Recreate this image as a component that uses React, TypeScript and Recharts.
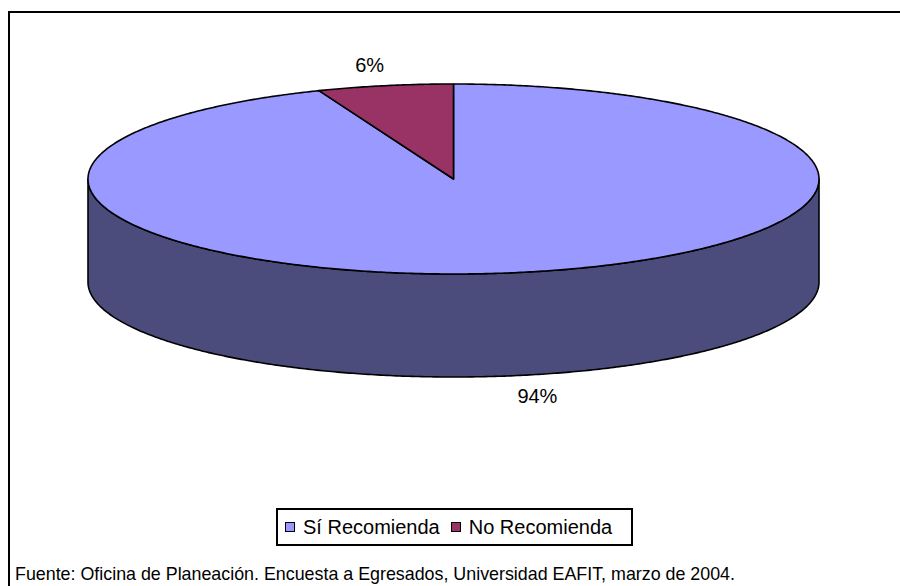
import React from 'react';
import { PieChart, Pie, Cell, Legend } from 'recharts';

// Survey answers: share of graduates who would recommend the university
const categories = ['Sí Recomienda', 'No Recomienda'];
const shares = [94, 6];
const topColors = ['#9999FF', '#993366'];
const sideColors = ['#4B4B7C', '#4C1933'];
const sourceNote =
  'Fuente: Oficina de Planeación. Encuesta a Egresados, Universidad EAFIT, marzo de 2004.';

const data = categories.map((name, i) => ({
  name,
  value: shares[i],
  fill: topColors[i],
  side: sideColors[i],
}));

const FONT = '"Liberation Sans", Arial, Helvetica, sans-serif';
const RAD = Math.PI / 180;
const TILT = 95 / 365.5; // vertical squash of the top face
const DEPTH = 103; // thickness of the cylinder wall
const LABEL_SCALE = 1.225;

type Pt = [number, number];

const ellipsePoint = (cx: number, cy: number, rx: number, ry: number, deg: number, dy = 0): Pt => [
  cx + rx * Math.cos(deg * RAD),
  cy - ry * Math.sin(deg * RAD) + dy,
];

const arcPoints = (
  cx: number, cy: number, rx: number, ry: number, from: number, to: number, dy = 0,
): Pt[] => {
  const n = Math.max(2, Math.ceil(Math.abs(to - from) / 0.5));
  const pts: Pt[] = [];
  for (let i = 0; i <= n; i++) {
    pts.push(ellipsePoint(cx, cy, rx, ry, from + ((to - from) * i) / n, dy));
  }
  return pts;
};

// Parts of [lo, hi] that face the viewer (lower half of the ellipse)
const frontRanges = (lo: number, hi: number): Array<[number, number]> => {
  const out: Array<[number, number]> = [];
  for (let k = Math.floor(lo / 360) - 1; k <= Math.ceil(hi / 360) + 1; k++) {
    const a = Math.max(lo, 180 + 360 * k);
    const b = Math.min(hi, 360 + 360 * k);
    if (b > a) out.push([a, b]);
  }
  return out;
};

const toPath = (pts: Pt[]) =>
  'M' + pts.map(([x, y]) => `${x.toFixed(2)},${y.toFixed(2)}`).join('L') + 'Z';

const Slice3D = (props: any) => {
  const { cx, cy, outerRadius, startAngle, endAngle, fill } = props;
  const side = props.payload?.side ?? props.side ?? '#444';
  const rx = outerRadius;
  const ry = outerRadius * TILT;
  const lo = Math.min(startAngle, endAngle);
  const hi = Math.max(startAngle, endAngle);
  const walls = frontRanges(lo, hi).map(([a, b]) =>
    toPath([...arcPoints(cx, cy, rx, ry, a, b, 0), ...arcPoints(cx, cy, rx, ry, b, a, DEPTH)]),
  );
  const face = toPath([[cx, cy], ...arcPoints(cx, cy, rx, ry, startAngle, endAngle, 0)]);
  return (
    <g>
      {walls.map((d, i) => (
        <path key={i} d={d} fill={side} stroke="#000" strokeWidth={1.6} strokeLinejoin="round" />
      ))}
      <path d={face} fill={fill} stroke="#000" strokeWidth={1.6} strokeLinejoin="round" />
    </g>
  );
};

const renderLabel = (props: any) => {
  const { cx, cy, outerRadius, value } = props;
  const mid = props.midAngle ?? (props.startAngle + props.endAngle) / 2;
  const s = Math.sin(mid * RAD);
  const x = cx + outerRadius * LABEL_SCALE * Math.cos(mid * RAD);
  const y = cy - outerRadius * TILT * LABEL_SCALE * s + (s < 0 ? DEPTH : 0);
  return (
    <text
      x={x}
      y={y}
      textAnchor="middle"
      dominantBaseline="central"
      fontSize={20}
      fontFamily={FONT}
      fill="#000"
    >
      {`${value}%`}
    </text>
  );
};

const LegendBox = (props: any) => {
  // keep the series order of the data
  const payload = [...(props.payload ?? [])].sort(
    (a: any, b: any) => categories.indexOf(a.value) - categories.indexOf(b.value),
  );
  return (
    <div
      style={{
        boxSizing: 'border-box',
        width: 357,
        height: 38,
        border: '2px solid #000',
        background: '#fff',
        display: 'flex',
        alignItems: 'center',
        paddingLeft: 7,
        fontFamily: FONT,
        fontSize: 20,
        color: '#000',
        whiteSpace: 'nowrap',
      }}
    >
      {payload.map((entry: any, i: number) => (
        <span key={i} style={{ display: 'flex', alignItems: 'center', marginRight: 11 }}>
          <span
            style={{
              display: 'inline-block',
              boxSizing: 'border-box',
              width: 10,
              height: 10,
              border: '1.5px solid #000',
              background: entry.color ?? topColors[categories.indexOf(entry.value)],
              marginRight: 8,
            }}
          />
          {entry.value}
        </span>
      ))}
    </div>
  );
};

export default function App() {
  return (
    <div
      style={{
        position: 'absolute',
        left: 0,
        top: 0,
        width: 900,
        height: 586,
        background: '#fff',
        overflow: 'hidden',
      }}
    >
      <div
        style={{
          position: 'absolute',
          left: 8,
          top: 11,
          width: 940,
          height: 620,
          boxSizing: 'border-box',
          border: '2px solid #000',
        }}
      />
      <PieChart
        width={900}
        height={586}
        margin={{ top: 0, right: 0, bottom: 0, left: 0 }}
        style={{ position: 'absolute', left: 0, top: 0 }}
      >
        <Pie
          data={data}
          dataKey="value"
          nameKey="name"
          cx={453.5}
          cy={179}
          outerRadius={365.5}
          startAngle={90}
          endAngle={-270}
          stroke="#000"
          isAnimationActive={false}
          labelLine={false}
          label={renderLabel}
          shape={Slice3D}
          activeShape={Slice3D}
          inactiveShape={Slice3D}
        >
          {data.map((d, i) => (
            <Cell key={i} fill={d.fill} />
          ))}
        </Pie>
        <Legend
          content={LegendBox}
          wrapperStyle={{ left: 276, top: 508, width: 357, height: 38, bottom: 'auto' }}
        />
      </PieChart>
      <svg
        width={900}
        height={586}
        style={{ position: 'absolute', left: 0, top: 0, pointerEvents: 'none' }}
      >
        <text
          x={15}
          y={580}
          fontSize={18.5}
          fontFamily={FONT}
          fill="#000"
          textLength={720}
          lengthAdjust="spacingAndGlyphs"
        >
          {sourceNote}
        </text>
      </svg>
    </div>
  );
}
